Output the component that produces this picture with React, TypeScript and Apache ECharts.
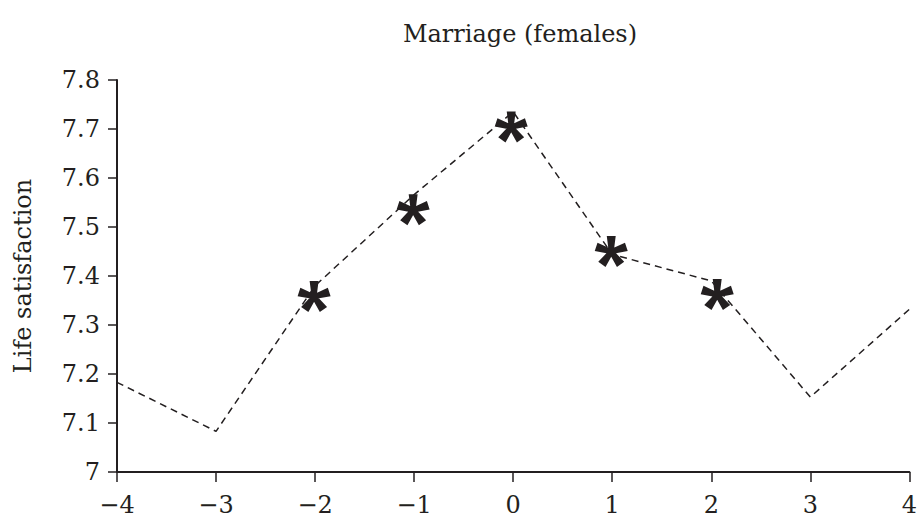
import React, { useEffect, useRef } from "react";
import * as echarts from "echarts";

const xTicks = [-4, -3, -2, -1, 0, 1, 2, 3, 4];
const lineX = [-4, -3, -2, -1, 0, 1, 2, 3, 4];
const lineY = [7.183, 7.083, 7.38, 7.566, 7.735, 7.444, 7.39, 7.153, 7.332];
const starX = [-2.01, -1.01, -0.02, 0.99, 2.06];
const starY = [7.358, 7.535, 7.704, 7.45, 7.362];

const titleText = "Marriage (females)";
const yName = "Life satisfaction";

const ink = "#231f20";
const font = "'DejaVu Serif', 'Liberation Serif', serif";

const asteriskPath =
  "path://M14.5 17 L12.5 1 L21.5 1 L19.5 17 Z " +
  "M16.2275 14.6224 L30.827 7.776 L33.608 16.336 L17.7725 19.3776 Z " +
  "M19.0225 15.5305 L30.045 27.299 L22.764 32.589 L14.9775 18.4695 Z " +
  "M19.0225 18.4695 L11.236 32.589 L3.955 27.299 L14.9775 15.5305 Z " +
  "M16.2275 19.3776 L0.392 16.336 L3.173 7.776 L17.7725 14.6224 Z";

export default function App() {
  const ref = useRef<HTMLDivElement>(null);
  useEffect(() => {
    if (!ref.current) return;
    const chart = echarts.init(ref.current, undefined, { renderer: "svg" });
    const minus = (v: number) => String(v).replace("-", "\u2212");
    chart.setOption({
      animation: false,
      backgroundColor: "#ffffff",
      title: {
        text: titleText,
        left: 515,
        textAlign: "center",
        top: 17,
        textStyle: { fontFamily: font, fontSize: 24, fontWeight: "normal", color: ink },
      },
      grid: { left: 117, right: 7, top: 80, bottom: 44, containLabel: false },
      xAxis: {
        type: "value",
        min: -4,
        max: 4,
        interval: 1,
        axisLine: { show: true, onZero: false, lineStyle: { color: ink, width: 2 } },
        axisTick: { show: true, length: 10, lineStyle: { color: ink, width: 1.5 } },
        axisLabel: {
          margin: 21,
          fontFamily: font,
          fontSize: 24,
          color: ink,
          formatter: (v: number) => minus(v),
          customValues: xTicks,
        },
        splitLine: { show: false },
      },
      yAxis: {
        type: "value",
        min: 7,
        max: 7.8,
        interval: 0.1,
        name: yName,
        nameLocation: "middle",
        nameGap: 82,
        nameTextStyle: { fontFamily: font, fontSize: 24, color: ink },
        axisLine: { show: true, onZero: false, lineStyle: { color: ink, width: 2 } },
        axisTick: { show: true, length: 9, lineStyle: { color: ink, width: 1.5 } },
        axisLabel: {
          margin: 17,
          fontFamily: font,
          fontSize: 24,
          color: ink,
          formatter: (v: number) => String(Math.round(v * 10) / 10),
        },
        splitLine: { show: false },
      },
      series: [
        {
          type: "line",
          data: lineX.map((x, i) => [x, lineY[i]]),
          showSymbol: false,
          symbol: "none",
          lineStyle: { color: ink, width: 1.5, type: [7, 5] },
          z: 2,
        },
        {
          type: "scatter",
          data: starX.map((x, i) => [x, starY[i]]),
          symbol: asteriskPath,
          symbolSize: [33, 31],
          itemStyle: { color: ink, opacity: 1 },
          z: 3,
        },
      ],
    });
    return () => chart.dispose();
  }, []);
  return (
    <div
      ref={ref}
      style={{ position: "fixed", left: 0, top: 0, width: 920, height: 517, background: "#fff" }}
    />
  );
}
